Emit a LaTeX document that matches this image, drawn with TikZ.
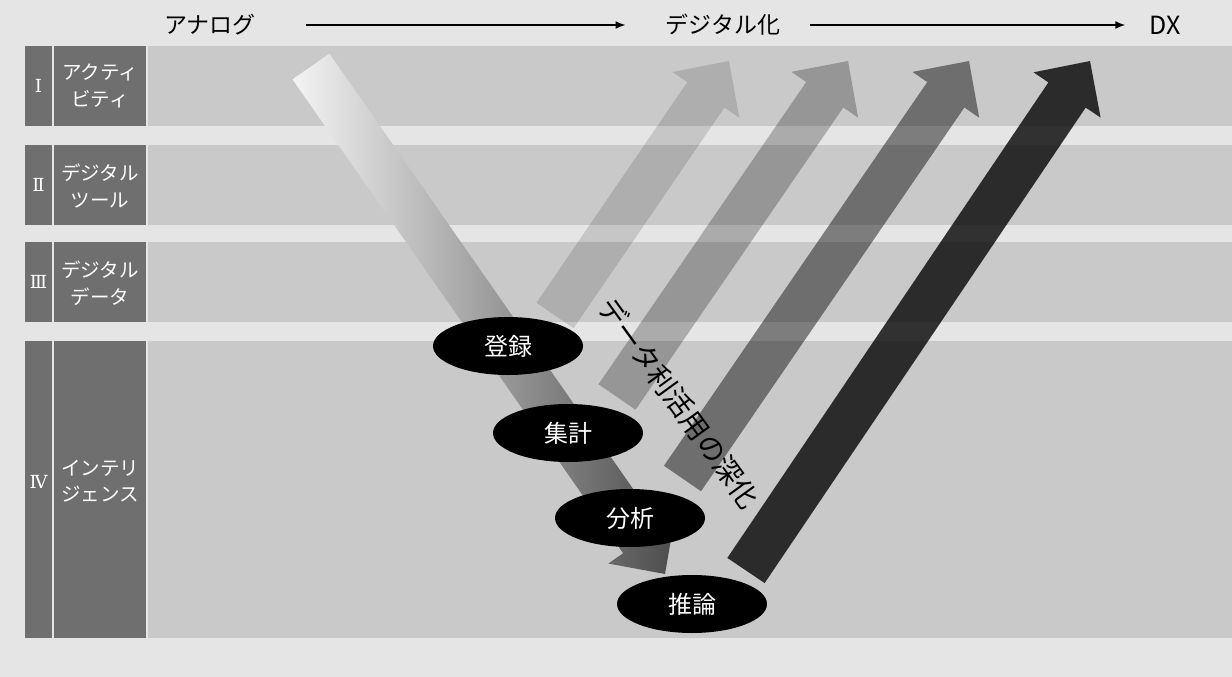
\documentclass[tikz,border=0pt]{standalone}
\usepackage{fontspec}
\setmainfont{Noto Sans CJK JP}
\newfontfamily\numfont{DejaVu Serif}
\usetikzlibrary{calc,arrows.meta,shapes.geometric}
\definecolor{bgc}{HTML}{E5E5E5}
\definecolor{bandc}{HTML}{C8C9C8}
\definecolor{colc}{HTML}{6F6F6F}
\definecolor{shadeL}{HTML}{F4F4F4}
\definecolor{shadeR}{HTML}{4C4C4C}
\tikzset{
  bandfill/.style={fill=bandc, draw=none},
  darkcol/.style={fill=colc, draw=none},
  numlabel/.style={text=white, inner sep=0pt, font=\numfont\fontsize{18}{18}\selectfont},
  rowlabel/.style={text=white, align=center, inner sep=0pt, font=\fontsize{19.5}{26.5}\selectfont},
  hdr/.style={inner sep=0pt, font=\fontsize{23}{23}\selectfont},
  hdrarrow/.style={line width=1.5pt, -{Latex[length=10pt,width=8pt]}},
  stepoval/.style={ellipse, fill=black, minimum width=150pt, minimum height=58pt, text=white, inner sep=0pt, font=\fontsize{24}{24}\selectfont},
  uparrowfill/.style={fill=black, fill opacity=#1, draw=none},
  mainarrowfill/.style={left color=shadeL, right color=shadeR, draw=none},
  deeptext/.style={rotate=-54, inner sep=0pt, font=\fontsize{28}{28}\selectfont}
}
\newcommand\fatarrowshape[4]{%
  \coordinate (#1base) at ($(#3)!41pt!(#2)$);
  \path[#4] ($(#2)!22.5pt!90:(#3)$) -- ($(#1base)!22.5pt!90:(#3)$) -- ($(#1base)!40.5pt!90:(#3)$) -- (#3)
     -- ($(#1base)!40.5pt!-90:(#3)$) -- ($(#1base)!22.5pt!-90:(#3)$) -- ($(#2)!22.5pt!-90:(#3)$) -- cycle;
}
\begin{document}
\begin{tikzpicture}[x=1pt,y=-1pt]
\useasboundingbox (0,0) rectangle (1232,677);
\fill[bgc] (0,0) rectangle (1232,677);
% bands
\foreach \ya/\yb in {46/126, 145/225, 242/322, 341/638}{
  \fill[darkcol] (25,\ya) rectangle (52,\yb);
  \fill[darkcol] (54,\ya) rectangle (146,\yb);
  \fill[bandfill] (148,\ya) rectangle (1232,\yb);
}
% row labels
\node[numlabel] (n1) at (38.5,86) {Ⅰ};
\node[numlabel] (n2) at (38.5,185) {Ⅱ};
\node[numlabel] (n3) at (38.5,282) {Ⅲ};
\node[numlabel] (n4) at (38.5,482) {Ⅳ};
\node[rowlabel] (l1) at (100,86) {アクティ\\ビティ};
\node[rowlabel] (l2) at (100,186) {デジタル\\ツール};
\node[rowlabel] (l3) at (100,283) {デジタル\\データ};
\node[rowlabel] (l4) at (100,481) {インテリ\\ジェンス};
% header
\node[hdr] (ana) at (210,25) {アナログ};
\node[hdr] (dig) at (723,25) {デジタル化};
\node[hdr, font=\fontsize{25}{25}\selectfont] (dx) at (1165,25) {DX};
\draw[hdrarrow, shorten <=50pt, shorten >=40pt] (ana.east) -- (dig.west);
\draw[hdrarrow, shorten <=30pt, shorten >=24pt] (dig.east) -- (dx.west);
% main down arrow
\coordinate (mtail) at (311,66.5);
\coordinate (mtip) at (665,574);
\fatarrowshape{m}{mtail}{mtip}{mainarrowfill}
% up arrows
\coordinate (t1) at (555,315.5); \coordinate (p1) at (729,61);
\coordinate (t2) at (617,397);   \coordinate (p2) at (848,61);
\coordinate (t3) at (682.5,478.5); \coordinate (p3) at (969,61);
\coordinate (t4) at (746,570.5); \coordinate (p4) at (1090,61);
\fatarrowshape{a}{t1}{p1}{uparrowfill=0.135}
\fatarrowshape{b}{t2}{p2}{uparrowfill=0.25}
\fatarrowshape{c}{t3}{p3}{uparrowfill=0.45}
\fatarrowshape{d}{t4}{p4}{uparrowfill=0.785}
% steps
\node[stepoval] (s1) at (508,346) {登録};
\node[stepoval] (s2) at (568,433) {集計};
\node[stepoval] (s3) at (630,518) {分析};
\node[stepoval] (s4) at (692,604) {推論};
% diagonal text
\node[deeptext] (deep) at (679,403) {データ利活用の深化};
\end{tikzpicture}
\end{document}
